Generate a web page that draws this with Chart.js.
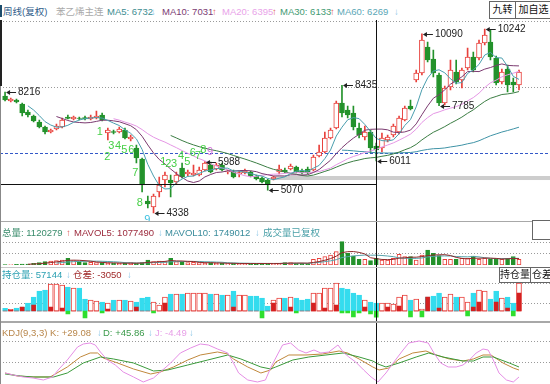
<!DOCTYPE html>
<html><head><meta charset="utf-8">
<script src="https://cdn.jsdelivr.net/npm/chart.js@4.4.1/dist/chart.umd.min.js"></script>
<style>
html,body{margin:0;padding:0;background:#fff;overflow:hidden;}
#wrap{position:relative;width:550px;height:384px;overflow:hidden;background:#fff;font-family:"Liberation Sans",Arial,"Noto Sans CJK SC",sans-serif;}
canvas{position:absolute;left:0;}
.t{position:absolute;font-size:9.5px;line-height:12px;white-space:nowrap;}
.btn{position:absolute;font-size:10px;line-height:16px;text-align:center;color:#111;background:#fff;border:1px solid #666;box-sizing:border-box;white-space:nowrap;overflow:hidden;}
.sep{position:absolute;left:0;width:550px;background:#a8a8a8;}
</style></head><body>
<div id="wrap">
<canvas id="cMain" width="551" height="202" style="top:20px"></canvas>
<canvas id="cVol" width="551" height="45" style="top:222px"></canvas>
<canvas id="cOI" width="551" height="54" style="top:267px"></canvas>
<canvas id="cKDJ" width="551" height="63" style="top:321px"></canvas>

<div class="sep" style="top:221px;height:1px"></div>
<div class="sep" style="top:267px;height:1px;background:#c8c8c8"></div>
<div class="sep" style="top:321px;height:2px"></div>
<div style="position:absolute;left:0;top:20px;width:2px;height:66px;background:#222"></div>
<div style="position:absolute;left:0;top:86px;width:1px;height:298px;background:#888"></div>
<div style="position:absolute;left:0;top:5px;width:2px;height:12px;background:#1d4d6d"></div>

<div class="t" style="left:3px;top:6px;color:#2f5d8a">周线(复权)</div>
<div class="t" style="left:56px;top:6px;color:#aaaaaa">苯乙烯主连</div>
<div class="t" style="left:107px;top:6px;color:#3d8d91">MA5: 6732</div><div class="t" style="left:151px;top:6px;color:#8cc6e6">↓</div>
<div class="t" style="left:162px;top:6px;color:#7b3a72">MA10: 7031</div><div class="t" style="left:212px;top:6px;color:#e05a5a">↑</div>
<div class="t" style="left:222px;top:6px;color:#e9a3e9">MA20: 6395</div><div class="t" style="left:272px;top:6px;color:#e05a5a">↑</div>
<div class="t" style="left:280px;top:6px;color:#3f9a72">MA30: 6133</div><div class="t" style="left:330px;top:6px;color:#e05a5a">↑</div>
<div class="t" style="left:337px;top:6px;color:#5aa6b6">MA60: 6269</div><div class="t" style="left:394px;top:6px;color:#8cc6e6">↓</div>
<div class="btn" style="left:489px;top:1px;width:27px;height:18px">九转</div>
<div class="btn" style="left:515px;top:1px;width:37px;height:18px">加自选</div>

<div class="t" style="left:2px;top:227px;color:#3a8c6c">总量: 1120279</div><div class="t" style="left:66px;top:227px;color:#e05a5a">↑</div>
<div class="t" style="left:74px;top:227px;color:#9c2a3c">MAVOL5: 1077490</div><div class="t" style="left:158px;top:227px;color:#8cc6e6">↓</div>
<div class="t" style="left:165px;top:227px;color:#3a8c9c">MAVOL10: 1749012</div><div class="t" style="left:255px;top:227px;color:#8cc6e6">↓</div>
<div class="t" style="left:263px;top:227px;color:#4aa0a8">成交量已复权</div>
<div class="btn" style="left:532px;top:220px;width:20px;height:20px"></div>

<div class="t" style="left:2px;top:269px;color:#2aa0b2">持仓量: 57144</div><div class="t" style="left:66px;top:269px;color:#8cc6e6">↓</div>
<div class="t" style="left:73px;top:269px;color:#a02a2a">仓差: -3050</div><div class="t" style="left:127px;top:269px;color:#8cc6e6">↓</div>
<div class="btn" style="left:499px;top:267px;width:32px;height:16px;line-height:14px">持仓量</div>
<div class="btn" style="left:530px;top:267px;width:26px;height:16px;line-height:14px;text-align:left;padding-left:1px">仓差</div>

<div class="t" style="left:2px;top:327px;color:#b8864a">KDJ(9,3,3) K: +29.08</div><div class="t" style="left:97px;top:327px;color:#8cc6e6">↓</div>
<div class="t" style="left:103px;top:327px;color:#3a9a4a">D: +45.86</div><div class="t" style="left:148px;top:327px;color:#8cc6e6">↓</div>
<div class="t" style="left:155px;top:327px;color:#e8a0e8">J: -4.49</div><div class="t" style="left:189px;top:327px;color:#8cc6e6">↓</div>
</div>
<script>
// ---------- data (weekly) ----------
const SLOTS = 96;
const weeks = Array.from({length: SLOTS}, (_, i) => 'W' + (i + 1));
const opens = [8092,7932,7964,7835,7579,7450,7258,7097,6937,7033,7097,7418,7354,7386,7402,7354,7386,7482,6905,6953,6937,7001,6712,6423,6070,4723,4530,5011,5396,5396,5332,5781,5589,5557,5557,5717,5878,5749,5878,5653,5653,5589,5621,5653,5525,5461,5396,5429,5653,5717,5749,5814,5685,5749,5717,6166,6295,6744,7065,7867,7643,7546,7065,6776,6937,6487,6423,6680,6840,6937,7322,7771,8605,8830,9664,9279,8766,7867,8381,8862,8605,8990,9343,9311,9793,9825,9311,8541,8958,8541,8445];
const highs = [8216,8028,7996,7867,7643,7482,7322,7129,7033,7194,7386,7482,7450,7418,7450,7482,7611,7546,7065,7001,7097,7065,6840,6520,6102,4883,4947,5493,5653,5557,5653,5942,5717,5878,5814,5988,5974,5942,5942,5717,5717,5685,5749,5685,5557,5493,5429,5525,5878,5781,5910,5846,5749,5814,6199,6520,6937,7065,7932,8435,7771,7771,7226,7129,7001,6584,6905,6840,7194,7450,7771,7964,8926,10090,9825,9568,8830,8413,9247,9247,8990,9632,9504,9889,10242,10210,9375,8958,9087,8670,8926];
const lows = [7932,7899,7867,7450,7418,7258,7065,6873,6905,7001,7065,7354,7322,7322,7322,7322,7354,7290,6680,6873,6905,6712,6648,5942,5011,4498,4338,4851,5172,4851,5268,5461,5525,5525,5525,5685,5621,5717,5685,5589,5461,5493,5589,5493,5396,5300,5070,5396,5589,5621,5717,5621,5589,5589,5685,6134,6263,6712,7033,7418,7386,7001,6744,6680,6263,6011,6295,6616,6776,6873,7290,7643,8541,8766,9183,8702,7785,7803,8284,8477,8349,8926,8862,9247,9729,9247,8445,8477,8220,8220,8284];
const closes = [7964,7996,7899,7546,7482,7290,7097,6937,7001,7129,7322,7370,7418,7370,7354,7418,7450,7322,7001,6921,7033,6744,6776,6102,5236,4627,4883,5236,5557,5300,5557,5493,5653,5621,5717,5942,5653,5878,5717,5685,5493,5637,5685,5525,5429,5332,5268,5493,5749,5653,5846,5653,5621,5621,6134,6295,6744,7001,7867,7546,7482,7097,6840,6937,6423,6359,6744,6776,7129,7386,7707,7675,8830,9889,9247,8830,7867,8349,8926,8541,8926,9343,8926,9793,10049,9343,8509,8862,8445,8445,8862];
const none = n => Array(n).fill(null);
const ma5 = none(4).concat([7777,7643,7463,7270,7161,7091,7097,7152,7248,7322,7367,7386,7402,7383,7309,7222,7145,7004,6895,6715,6378,5897,5525,5217,5108,5121,5307,5429,5512,5525,5608,5685,5717,5762,5781,5775,5685,5682,5643,5605,5554,5522,5448,5409,5454,5499,5602,5679,5704,5679,5775,5865,6083,6359,6808,7091,7328,7399,7366,7180,6956,6731,6661,6648,6686,6879,7148,7335,7745,8297,8670,8894,8933,8836,8644,8503,8522,8817,8932,9106,9407,9491,9324,9311,9042,8721,8625]);
const ma10 = none(9).concat([7434,7370,7307,7259,7242,7229,7242,7277,7315,7315,7295,7266,7203,7139,7012,6800,6521,6265,6056,5912,5749,5602,5477,5364,5316,5364,5496,5573,5637,5653,5692,5685,5700,5703,5693,5664,5603,5565,5526,5530,5526,5562,5563,5557,5567,5637,5733,5881,6032,6244,6433,6596,6741,6863,6994,7023,7030,7030,7007,6933,6917,6940,6998,7197,7492,7774,8021,8134,8291,8471,8586,8708,8875,8884,8875,8955,9006,9071,9122,9074,9064,9058]);
const ma20 = none(19).concat([7364,7318,7255,7199,7127,7015,6881,6771,6686,6613,6522,6434,6340,6252,6164,6082,6009,5919,5847,5782,5721,5644,5588,5534,5505,5514,5550,5569,5582,5591,5609,5623,5631,5630,5630,5651,5668,5723,5779,5887,5980,6079,6152,6210,6280,6330,6381,6455,6519,6588,6675,6768,6869,7030,7243,7399,7525,7582,7649,7702,7752,7824,7936,8041,8183,8365,8514,8602,8706,8772,8825,8883]);
const ma30 = none(29).concat([6826,6746,6662,6588,6523,6465,6420,6371,6336,6293,6245,6184,6126,6069,6007,5943,5874,5801,5740,5698,5656,5616,5580,5541,5525,5555,5611,5673,5732,5809,5884,5948,6001,6041,6085,6108,6122,6158,6188,6235,6292,6366,6434,6539,6684,6811,6928,7015,7110,7216,7312,7415,7538,7648,7787,7917,8019,8078,8140,8159,8189,8235]);
const ma60 = none(59).concat([6355,6347,6332,6314,6304,6286,6271,6265,6262,6264,6269,6275,6280,6304,6346,6377,6401,6408,6425,6457,6484,6515,6559,6595,6656,6736,6815,6875,6936,6984,7036,7091]);
// volume in 10k lots
const volume = [8.5,8.5,11.9,17,17,28.9,39.1,56.1,68,73.1,85,113.9,73.1,56.1,39.1,45.9,39.1,39.1,28.9,28.9,28.9,28.9,39.1,28.9,39.1,85,56.1,68,56.1,113.9,56.1,45.9,39.1,45.9,39.1,28.9,39.1,28.9,28.9,22.1,28.9,17,28.9,28.9,22.1,28.9,22.1,28.9,28.9,39.1,39.1,28.9,28.9,22.1,96.9,113.9,141.1,170,226.1,396.1,198.9,153,96.9,96.9,73.1,112.0,85,85,113.9,181.9,141.1,141.1,85,170,255,198.9,158.1,96.9,96.9,96.9,113.9,113.9,153,96.9,113.9,102,96.9,96.9,113.9,141.1,96.9];
const mavol5 = none(4).concat([12.6,16.7,22.8,31.6,41.8,53.0,64.3,79.2,82.6,80.2,73.4,65.6,50.7,43.9,38.4,36.4,33.0,30.9,30.9,30.9,33.0,44.2,49.6,55.4,60.9,75.8,70.0,68.0,62.2,60.2,45.2,39.8,38.4,36.4,33.0,29.6,29.6,25.2,25.2,25.2,25.2,25.2,26.2,26.2,26.2,29.6,31.6,33.0,33.0,31.6,43.2,58.1,80.6,108.8,149.6,209.4,226.4,228.8,214.2,188.4,123.8,107.7,94.2,91.8,95.2,117.0,121.4,132.6,132.6,143.8,158.4,170,173.4,175.8,161.2,129.5,112.5,103.7,114.9,114.9,118.3,115.9,112.5,101.3,104.7,110.2,109.1]);
const mavol10 = none(9).concat([32.8,40.5,51,57.1,61.0,63.2,64.9,64.9,63.2,59.3,54.9,49.3,40.8,37.4,34.7,34.7,38.6,40.3,43.2,45.9,54.4,57.1,58.8,58.8,60.5,60.5,54.9,53.2,49.3,46.6,37.4,34.7,31.8,30.8,29.1,27.4,27.4,25.7,25.7,25.7,27.4,28.4,29.6,29.6,28.9,36.4,44.9,56.8,70.9,90.6,126.3,142.3,154.7,161.5,169.0,166.6,167.1,161.5,153,141.8,120.4,114.6,113.4,112.2,119.5,137.7,145.7,153,154.2,152.5,144,141.3,138.6,145.4,138,123.9,114.2,108.1,108.1,109.8,114.2,112.5]);
const openInt = [39300,36000,40300,43700,57100,77300,97500,100800,121000,121000,117600,110900,107600,107600,70600,67200,63900,60500,57100,67200,67200,67200,63900,60500,73900,77300,60500,50400,77300,87400,87400,87400,90700,90700,90700,90700,87400,87400,84000,84000,97500,84000,84000,80700,80700,73900,47100,67200,73900,73900,77300,73900,67200,70600,90700,90700,107600,107600,124400,107600,104200,90700,84000,67200,60500,57144,57100,57100,53800,77300,84000,67200,70600,37000,77300,80700,90700,77300,87400,77300,77300,60500,90700,100800,97500,70600,97500,73900,77300,57100,124400];
const oiChange = [0,500,0,2000,0,3000,0,0,2000,0,1500,-1500,0,0,-3500,0,0,-1000,1000,0,0,0,0,2000,0,0,-1000,0,4000,0,0,0,0,0,0,0,0,0,0,0,2000,0,0,0,0,-3500,0,4000,0,0,2000,-1000,0,0,4000,0,1500,0,3000,-1000,-1000,-3000,-1000,2000,-1500,-3050,0,2000,0,2500,0,-3000,0,-3000,7000,0,1500,0,0,0,0,-2500,2000,4500,0,0,4500,0,1500,-2500,9000];
// KDJ read as [week position, value]
const kdjK = [[0,20.7],[2.1,12.3],[4.9,9.5],[7.9,9.5],[10.9,37.5],[13.2,65.5],[14.9,76.7],[16.2,76.7],[17.2,62.7],[19.7,48.7],[22.5,31.9],[25.5,17.9],[27.2,23.5],[29.5,37.5],[32,57.1],[34.2,71.1],[37.2,79.5],[39,73.9],[40,59.9],[42.5,37.5],[44.8,20.7],[46.5,29.1],[47.4,51.5],[49.7,71.1],[52.7,71.1],[55.6,73.9],[58.5,82.3],[60,76.7],[62,59.9],[64.4,37.5],[65.5,29.1],[67.2,34.7],[69,59.9],[71.4,76.7],[73.7,82.3],[75.5,71.1],[77.8,59.9],[80.2,54.3],[82,59.9],[83.7,71.1],[85.1,71.1],[87.2,48.7],[89,34.7],[90,29.1]];
const kdjD = [[0,17.9],[2.7,12.3],[4.9,9.5],[8.5,9.5],[10.9,20.7],[13.7,48.7],[16.7,65.5],[19,59.9],[22.5,48.7],[26,26.3],[28.5,29.1],[32,43.1],[35.5,57.1],[39,71.1],[41.3,59.9],[44.8,37.5],[46.5,31.9],[47.4,37.5],[50.4,57.1],[53.2,65.5],[56.2,71.1],[59.2,76.7],[62,65.5],[64.4,54.3],[65.3,45.9],[66.7,37.5],[69,48.7],[72,65.5],[74.2,76.7],[76.7,65.5],[80.2,54.3],[82,54.3],[83.7,65.5],[85.5,65.5],[88.3,48.7],[90,37.5]];
const kdjJ = [[0,20.7],[1.4,15.1],[3.2,9.5],[4.9,6.7],[6.7,1.1],[8.3,9.5],[9.3,29.1],[10.9,57.1],[12.7,93.5],[13.7,101.9],[14.9,104.7],[15.8,99.1],[16.7,79.5],[17.9,57.1],[19.3,43.1],[20.7,23.5],[22.5,9.5],[24.2,-4.5],[26,6.7],[27.2,23.5],[29,48.7],[30.7,76.7],[32.5,90.7],[34.2,101.9],[35.6,99.1],[37.2,87.9],[39,76.7],[40,48.7],[40.9,20.7],[42.5,1.1],[44.2,-4.5],[45.6,1.1],[46.5,34.7],[47.4,62.7],[48.6,99.1],[50,104.7],[51.4,85.1],[52.7,76.7],[54.1,85.1],[55.3,76.7],[56.7,79.5],[58.3,99.1],[59.2,79.5],[60.2,65.5],[61.4,51.5],[62.8,29.1],[64.1,9.5],[65.3,-4.5],[66.7,20.7],[68.1,51.5],[69.7,85.1],[70.7,104.7],[72.5,110.3],[74.1,104.7],[75.1,76.7],[76.3,48.7],[77.6,37.5],[79,37.5],[80.2,43.1],[81.3,57.1],[82.5,76.7],[83.7,87.9],[84.6,85.1],[85.5,57.1],[86.5,20.7],[87.8,1.1],[89,-4.5],[90,9.5]];
// high / low annotations
const markIdx   = [0, 26, 35, 46, 59, 65, 73, 76, 84];
const markPrice = [8216, 4338, 5988, 5070, 8435, 6011, 10090, 7785, 10242];
// TD nine-turn counters
const jzIdx   = [16.6, 17.9, 18.6, 19.8, 20.9, 22.1, 22.8, 23.6, 24.9, 27.7, 28.6, 29.6, 30.8, 31.9, 32.9, 33.8, 34.7, 35.9];
const jzPrice = [6937, 6150, 6500, 6500, 6360, 6360, 5621, 4659, 4113, 5960, 5910, 5910, 6170, 5990, 6263, 6166, 6359, 6295];
const jzText  = ['1','2','3','4','5','6','7','8','9','1','2','3','4','5','6','7','8','9'];
const crossIdx = 65;

// ---------- styles ----------
const RED = '#e8413c', GREEN = '#23922b', CYAN = '#34dcee';
const up = closes.map((c, i) => c >= opens[i]);
const PAD = {left: 2.2, right: 0.6};
const FONT = '"Liberation Sans", Arial, sans-serif';

function hline(ctx, y, x0, x1) { ctx.beginPath(); ctx.moveTo(x0, y); ctx.lineTo(x1, y); ctx.stroke(); }
function crossV(chart) {
  const ctx = chart.ctx, xx = Math.round(chart.scales.x.getPixelForValue(crossIdx)) + 0.5;
  ctx.save(); ctx.strokeStyle = '#111'; ctx.lineWidth = 1; ctx.setLineDash([]);
  ctx.beginPath(); ctx.moveTo(xx, 0); ctx.lineTo(xx, chart.height); ctx.stroke(); ctx.restore();
}
function gridPlugin(id, axis, values, dash, color) {
  return { id, beforeDatasetsDraw(chart) {
    const ctx = chart.ctx, s = chart.scales[axis];
    ctx.save(); ctx.strokeStyle = color; ctx.lineWidth = 1; ctx.setLineDash(dash);
    values.forEach(v => hline(ctx, Math.round(s.getPixelForValue(v)) + 0.5, 0, chart.width));
    ctx.restore();
  }, afterDatasetsDraw: crossV };
}
function opts(yScales, pad, xLinear) {
  return {
    responsive: false, animation: false, events: [], devicePixelRatio: 1,
    layout: {padding: Object.assign({top: 0, bottom: 0}, PAD, pad)},
    plugins: {legend: {display: false}, tooltip: {enabled: false}},
    scales: Object.assign({
      x: xLinear ? {type: 'linear', display: false, min: -0.5, max: SLOTS - 0.5}
                 : {type: 'category', display: false, offset: true, grid: {display: false}}
    }, yScales)
  };
}
const lineDs = (data, color, extra) => Object.assign({type: 'line', data, borderColor: color, borderWidth: 1, pointRadius: 0, tension: 0, order: 0}, extra || {});

// ---------- main price panel ----------
const mainOverlay = {
  id: 'mainOverlay',
  beforeDatasetsDraw(chart) {
    const {ctx, scales: {x, y}} = chart;
    ctx.save(); ctx.lineWidth = 1;
    ctx.strokeStyle = '#9a9a9a'; ctx.setLineDash([1, 2]);
    [10499, 8381].forEach(p => hline(ctx, Math.round(y.getPixelForValue(p)) + 0.5, 0, chart.width));
    ctx.strokeStyle = '#3358c8'; ctx.setLineDash([3, 2]);
    hline(ctx, Math.round(y.getPixelForValue(6263)) + 0.5, 0, chart.width);
    ctx.setLineDash([]);
    ctx.fillStyle = '#cdcdcd';
    const b1 = y.getPixelForValue(5525), b2 = y.getPixelForValue(5396);
    ctx.fillRect(x.getPixelForValue(47), b1, chart.width, b2 - b1);
    ctx.restore();
  },
  afterDatasetsDraw(chart) {
    const {ctx, scales: {x, y}} = chart;
    crossV(chart);
    ctx.save();
    ctx.strokeStyle = '#111'; ctx.lineWidth = 1;
    hline(ctx, Math.round(y.getPixelForValue(5268)) + 0.5, 0, x.getPixelForValue(crossIdx));
    ctx.font = '10px ' + FONT; ctx.textBaseline = 'middle';
    ctx.fillStyle = '#222'; ctx.strokeStyle = '#222';
    markIdx.forEach((idx, k) => {
      const px = x.getPixelForValue(idx) + 1, py = Math.round(y.getPixelForValue(markPrice[k])) + 0.5;
      hline(ctx, py, px + 2, px + 10);
      ctx.beginPath(); ctx.moveTo(px, py); ctx.lineTo(px + 4, py - 2.5); ctx.lineTo(px + 4, py + 2.5); ctx.closePath(); ctx.fill();
      ctx.fillText(String(markPrice[k]), px + 12, py);
    });
    ctx.font = '11px ' + FONT; ctx.textAlign = 'center';
    jzIdx.forEach((idx, k) => {
      const last = jzText[k] === '9';
      ctx.fillStyle = last ? (k < 9 ? '#3cc0e0' : '#d070d8') : '#45cf45';
      ctx.fillText(jzText[k], x.getPixelForValue(idx), y.getPixelForValue(jzPrice[k]));
    });
    ctx.restore();
  }
};
new Chart(document.getElementById('cMain'), {
  type: 'bar',
  data: {labels: weeks, datasets: [
    lineDs(ma5, '#4a9eae'), lineDs(ma10, '#7b3a70'), lineDs(ma20, '#e596e5'), lineDs(ma30, '#3b7d43'), lineDs(ma60, '#3f93a6'),
    {type: 'bar', data: opens.map((o, i) => [o, closes[i]]), backgroundColor: up.map(u => u ? '#ffffff' : GREEN),
     borderColor: up.map(u => u ? RED : GREEN), borderWidth: 1, borderSkipped: false, barThickness: 5, grouped: false, order: 1},
    {type: 'bar', data: lows.map((l, i) => [l, highs[i]]), backgroundColor: up.map(u => u ? RED : GREEN),
     barThickness: 1, grouped: false, order: 2}
  ]},
  options: opts({y: {display: false, min: 4049, max: 10531}}, {}),
  plugins: [mainOverlay]
});

// ---------- volume panel ----------
new Chart(document.getElementById('cVol'), {
  type: 'bar',
  data: {labels: weeks, datasets: [
    lineDs(mavol5, '#8e2a2a'), lineDs(mavol10, '#56a2aa'),
    {type: 'bar', data: volume, backgroundColor: up.map(u => u ? '#ffffff' : GREEN), borderColor: up.map(u => u ? RED : GREEN),
     borderWidth: 1, borderSkipped: false, barThickness: 4, grouped: false, order: 1}
  ]},
  options: opts({y: {display: false, min: 0, max: 493}}, {top: 14, bottom: 2}),
  plugins: [gridPlugin('volGrid', 'y', [391, 204], [1, 2], '#9a9a9a')]
});

// ---------- open interest panel ----------
new Chart(document.getElementById('cOI'), {
  type: 'bar',
  data: {labels: weeks, datasets: [
    {type: 'bar', yAxisID: 'yD', data: oiChange.map(d => [0, d]), backgroundColor: oiChange.map(d => d >= 0 ? '#d42020' : '#2ede2e'),
     barThickness: 4, grouped: false, order: 1},
    {type: 'bar', yAxisID: 'y', data: openInt.map(v => [30000, v]), backgroundColor: up.map(u => u ? '#ffffff' : CYAN),
     borderColor: up.map(u => u ? RED : CYAN), borderWidth: 1, borderSkipped: false, barThickness: 5, grouped: false, order: 2}
  ]},
  options: opts({y: {display: false, min: 0, max: 134440}, yD: {display: false, min: -4500, max: 15500}}, {top: 13, bottom: 1}),
  plugins: [gridPlugin('oiGrid', 'y', [124357, 57137], [1, 2], '#9a9a9a')]
});

// ---------- KDJ panel ----------
const pts = arr => arr.map(p => ({x: p[0], y: p[1]}));
new Chart(document.getElementById('cKDJ'), {
  type: 'line',
  data: {datasets: [
    lineDs(pts(kdjJ), '#e58ee5'), lineDs(pts(kdjD), '#3a9a3a'), lineDs(pts(kdjK), '#c0883c')
  ]},
  options: opts({y: {display: false, min: -10.12, max: 166.28}}, {}, true),
  plugins: [gridPlugin('kdjGrid', 'y', [110.3, 51.5], [1, 2], '#9a9a9a')]
});
</script>
</body></html>
